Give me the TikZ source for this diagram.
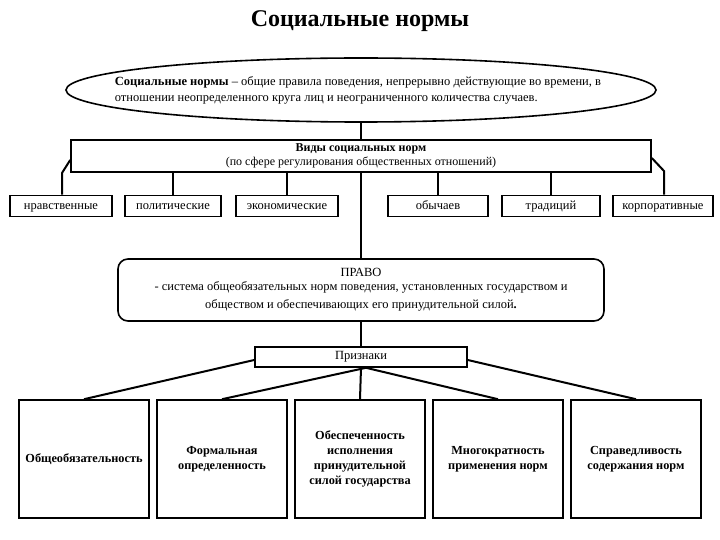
\documentclass[tikz,border=0pt]{standalone}
\usepackage{fontspec}
\setmainfont{Liberation Serif}
\usetikzlibrary{shapes.geometric,calc}
\begin{document}
\begin{tikzpicture}[x=1pt,y=-1pt,
  every node/.style={font=\fontsize{12.5}{15}\selectfont},
  frame/.style={draw,line width=1.6pt,inner sep=0pt},
  smallbox/.style={frame,minimum height=21pt,text height=7pt,text depth=0pt},
  bigbox/.style={frame,minimum width=130pt,minimum height=118pt,align=center,font=\fontsize{12.3}{15}\selectfont\bfseries},
  conn/.style={line width=2pt}]
\useasboundingbox (0,0) rectangle (720,540);
\fill[white] (0,0) rectangle (720,540);
\node (title) at (360,21) {\fontsize{24}{26}\selectfont\bfseries Социальные нормы};
\node[frame,ellipse,minimum width=590pt,minimum height=64pt] (def) at (361,90) {};
\node[align=left] (deftext) at (358,90.5)
  {\textbf{Социальные нормы} – общие правила поведения, непрерывно действующие во времени, в\\[1pt]
   отношении неопределенного круга лиц и неограниченного количества случаев.};
\node[frame,minimum width=580pt,minimum height=32pt,align=center,font=\fontsize{12}{14}\selectfont] (vid) at (361,156)
  {\textbf{Виды социальных норм}\\(по сфере регулирования общественных отношений)};
\node[smallbox,minimum width=102pt] (n1) at (61,206) {нравственные};
\node[smallbox,minimum width=96pt] (n2) at (173,206) {политические};
\node[smallbox,minimum width=102pt] (n3) at (287,206) {экономические};
\node[smallbox,minimum width=100pt] (n4) at (438,206) {обычаев};
\node[smallbox,minimum width=98pt] (n5) at (551,206) {традиций};
\node[smallbox,minimum width=100pt] (n6) at (663,206) {корпоративные};
\node[frame,rounded corners=10pt,minimum width=486pt,minimum height=62pt,align=center] (pravo) at (361,290)
  {ПРАВО\\[-1pt] - система общеобязательных норм поведения, установленных государством и\\[3pt]
   обществом и обеспечивающих его принудительной силой\textbf{.}};
\node[frame,minimum width=212pt,minimum height=20pt,text height=7.5pt,text depth=2pt] (priz) at (361,357) {Признаки};
\node[bigbox] (b1) at (84,459) {Общеобязательность};
\node[bigbox] (b2) at (222,459) {Формальная\\определенность};
\node[bigbox] (b3) at (360,459) {Обеспеченность\\исполнения\\принудительной\\силой государства};
\node[bigbox] (b4) at (498,459) {Многократность\\применения норм};
\node[bigbox] (b5) at (636,459) {Справедливость\\содержания норм};
\coordinate (lk) at (62,173);
\coordinate (rk) at (664,171);
\draw[conn] (def.south) -- (vid.north);
\draw[conn] (vid.south) -- (pravo.north);
\draw[conn] (pravo.south) -- (priz.north);
\draw[conn] (priz.south) -- (b3.north);
\draw[conn] ([yshift=-4pt]vid.west) -- (lk) -- (lk |- n1.north);
\draw[conn] ([yshift=-2pt]vid.east) -- (rk) -- (rk |- n6.north);
\foreach \n in {n2,n3,n4,n5}{\draw[conn] (\n.north) -- (\n.north |- vid.south);}
\draw[conn] ([yshift=-3pt]priz.west) -- (b1.north);
\draw[conn] ([xshift=5pt]priz.south) -- (b2.north);
\draw[conn] ([xshift=5pt]priz.south) -- (b4.north);
\draw[conn] ([yshift=-3pt]priz.east) -- (b5.north);
\end{tikzpicture}
\end{document}
